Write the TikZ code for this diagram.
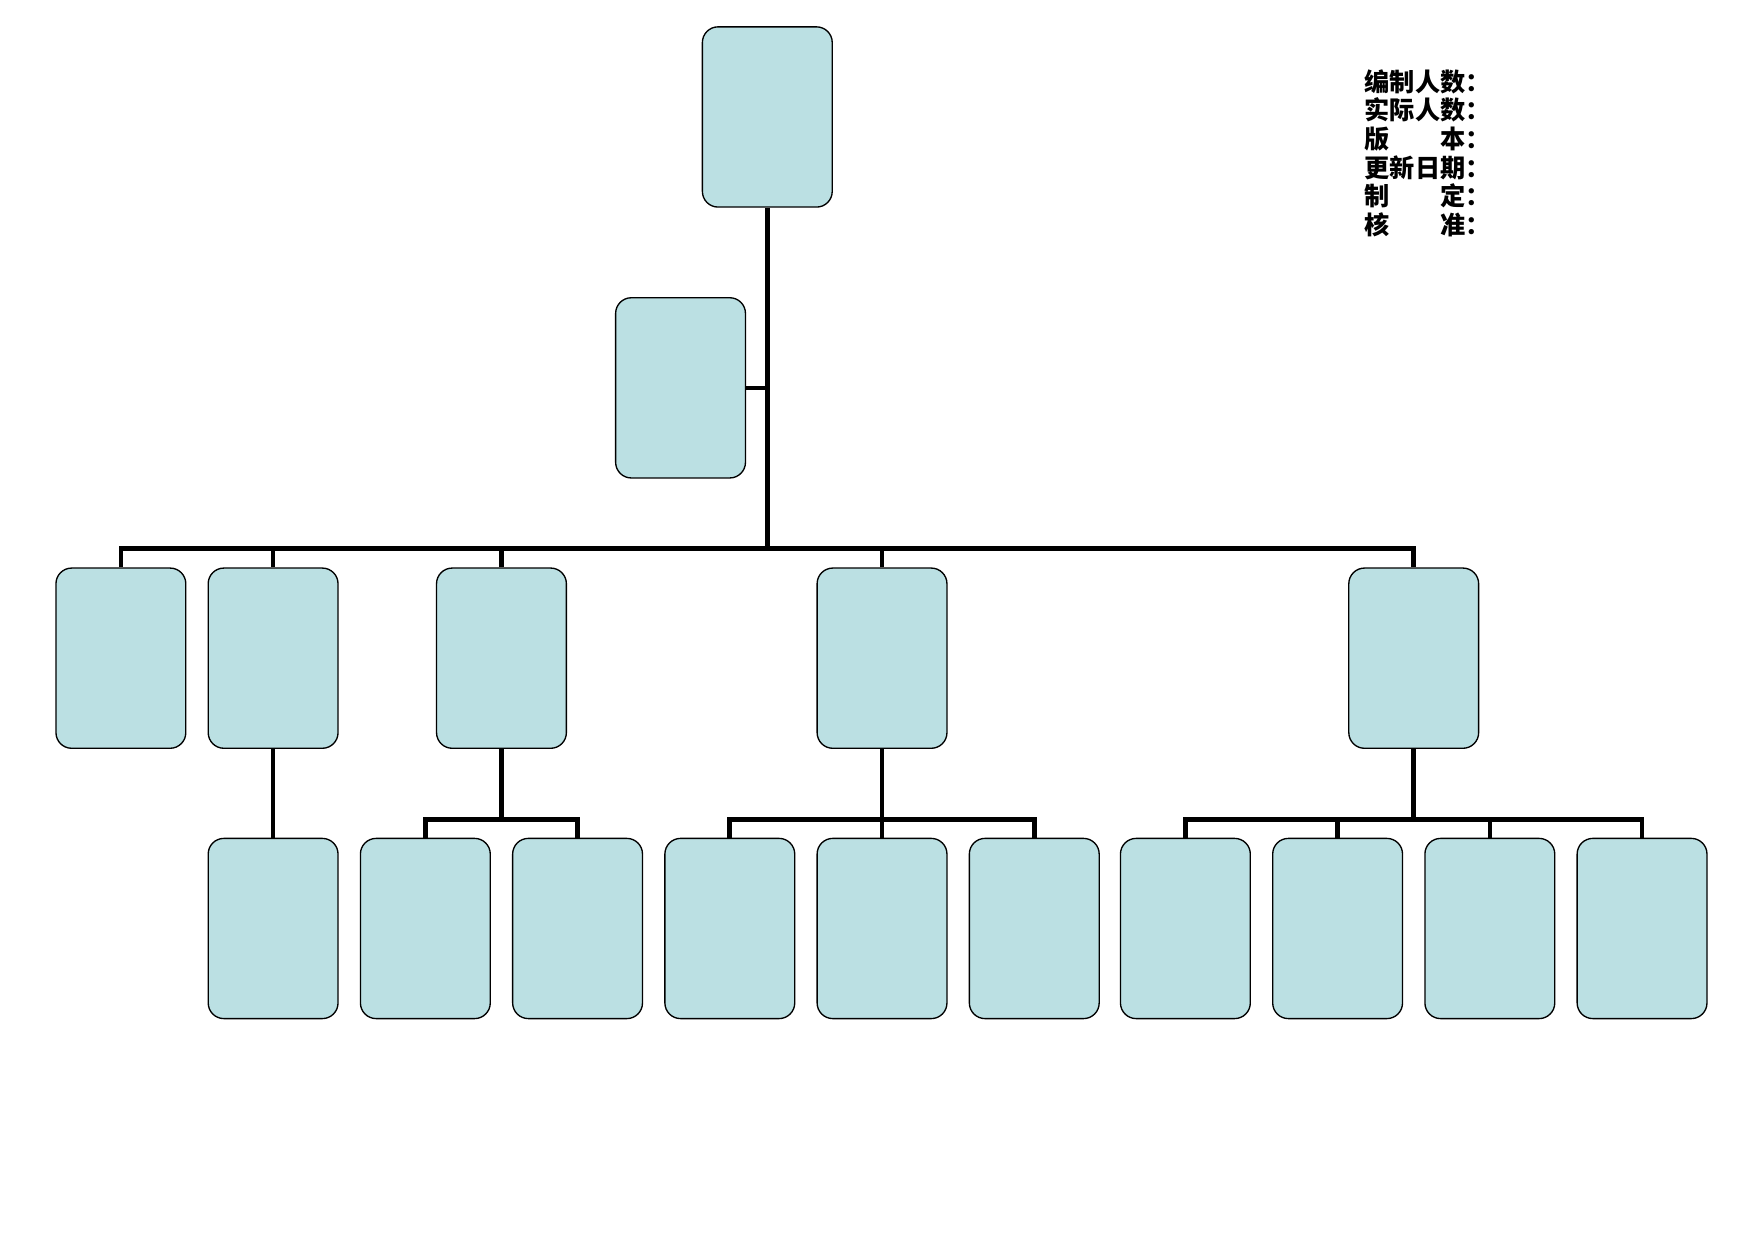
\documentclass[tikz,border=0pt]{standalone}
\usepackage{fontspec}
\newfontfamily\cjk{Noto Sans CJK SC}
\usepackage{tikz}
\definecolor{boxblue}{RGB}{187,224,227}

\begin{document}
\begin{tikzpicture}[x=1pt,y=-1pt,
  post/.style={draw=black,line width=1.2pt,fill=boxblue,rounded corners=14pt,minimum width=116pt,minimum height=161pt,inner sep=0pt},
  link/.style={draw=black,line width=4.2pt}]
\useasboundingbox (0,0) rectangle (1567,1108);

\node[post] (top) at (685.5,104.5) {};
\node[post] (asst) at (608,346.5) {};

\node[post] (c1) at (108,588) {};
\node[post] (c2) at (244,588) {};
\node[post] (c3) at (448,588) {};
\node[post] (c4) at (788,588) {};
\node[post] (c5) at (1263,588) {};

\foreach \x [count=\i] in {244,380,516,652,788,924,1059,1195,1331,1467}
  \node[post] (d\i) at (\x,829.5) {};

\coordinate (bus) at (685.5,490);
\coordinate (j3) at (448,732);
\coordinate (j4) at (788,732);
\coordinate (j5) at (1263,732);

\draw[link] (top.south) -- (bus);
\draw[link] (asst.east) -- (asst.east -| top.south);
\foreach \n in {c1,c2,c3,c4,c5}
  \draw[link] (\n.north) |- (bus);

\draw[link] (c2.south) -- (d1.north);
\draw[link] (c3.south) -- (j3);
\draw[link] (d2.north) |- (j3);
\draw[link] (d3.north) |- (j3);
\draw[link] (c4.south) -- (j4);
\foreach \n in {d4,d5,d6}
  \draw[link] (\n.north) |- (j4);
\draw[link] (c5.south) -- (j5);
\foreach \n in {d7,d8,d9,d10}
  \draw[link] (\n.north) |- (j5);

\node[anchor=north west,inner sep=0pt,align=left,font={\cjk\bfseries\fontsize{22.5pt}{25.5pt}\selectfont}] (info) at (1219,62)
  {编制人数：\\实际人数：\\版\hspace{2em}本：\\更新日期：\\制\hspace{2em}定：\\核\hspace{2em}准：};
\end{tikzpicture}
\end{document}
